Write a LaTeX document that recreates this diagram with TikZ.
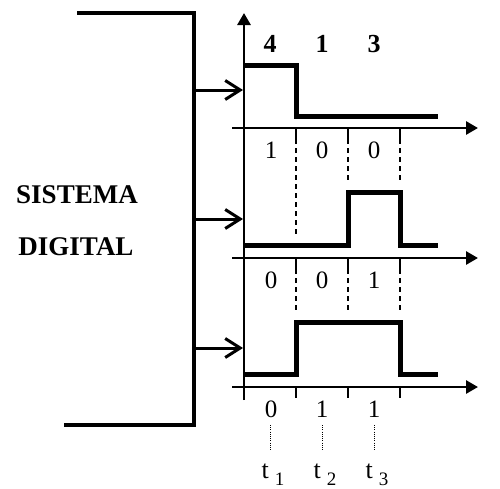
\documentclass[tikz,border=0pt]{standalone}
\usepackage{fontspec}
\setmainfont{Liberation Serif}
\usetikzlibrary{arrows.meta}
\begin{document}
\begin{tikzpicture}[x=1pt,y=-1pt,
  bracketline/.style={line width=4pt,line join=miter},
  inarrow/.style={line width=3pt,-{Straight Barb[length=15pt,width=19pt,line width=3pt]}},
  axisline/.style={line width=2.8pt,-{Triangle[length=12pt,width=13pt]}},
  tickline/.style={line width=1.5pt},
  signal/.style={line width=5pt,line join=miter},
  dashline/.style={line width=1.3pt,dash pattern=on 5pt off 4pt},
  dotline/.style={line width=1pt,dash pattern=on 1pt off 1.2pt},
  bitlabel/.style={font=\fontsize{25}{25}\selectfont,inner sep=0pt},
  toplabel/.style={font=\fontsize{26}{26}\selectfont\bfseries,inner sep=0pt},
  sysname/.style={font=\fontsize{27}{27}\selectfont\bfseries,inner sep=0pt},
  tlabel/.style={font=\fontsize{26}{26}\selectfont,inner sep=0pt}
]
\useasboundingbox (0,0) rectangle (500,488);
% bracket of the system
\coordinate (bt0) at (77,13);
\coordinate (bt1) at (194,13);
\coordinate (bb1) at (194,425);
\coordinate (bb0) at (64,425);
\draw[bracketline] (bt0) -- (bt1) -- (bb1) -- (bb0);
\node[sysname] (sis) at (77,195) {SISTEMA};
\node[sysname] (dig) at (76,247) {DIGITAL};
% vertical axis
\coordinate (vbot) at (244,400);
\coordinate (vtop) at (244,13);
\draw[axisline] (vbot) -- (vtop);
% input arrows
\foreach \i/\y in {1/90,2/219,3/348}{
  \coordinate (ia\i) at (194,\y);
  \coordinate (ib\i) at (243,\y);
  \draw[inarrow] (ia\i) -- (ib\i);
}
% horizontal axes and ticks
\foreach \i/\y in {1/128,2/258,3/387}{
  \coordinate (ha\i) at (232,\y);
  \coordinate (hb\i) at (478,\y);
  \draw[axisline] (ha\i) -- (hb\i);
  \foreach \x in {296,348,400}{
    \coordinate (tk\i\x) at (\x,\y);
    \coordinate (tke\i\x) at (\x,\y+11);
    \draw[tickline] (tk\i\x) -- (tke\i\x);
  }
}
% signals
\draw[signal] (244,65) -- (296,65) -- (296,116) -- (438,116);
\draw[signal] (244,245) -- (348,245) -- (348,192) -- (400,192) -- (400,245) -- (438,245);
\draw[signal] (244,374) -- (296,374) -- (296,322) -- (400,322) -- (400,374) -- (438,374);
% dashed guides
\coordinate (d1a) at (296,139); \coordinate (d1b) at (296,234);
\coordinate (d2a) at (348,139); \coordinate (d2b) at (348,182);
\coordinate (d3a) at (400,139); \coordinate (d3b) at (400,182);
\draw[dashline] (d1a) -- (d1b);
\draw[dashline] (d2a) -- (d2b);
\draw[dashline] (d3a) -- (d3b);
\foreach \x in {296,348,400}{
  \coordinate (e\x a) at (\x,269);
  \coordinate (e\x b) at (\x,312);
  \draw[dashline] (e\x a) -- (e\x b);
}
% top labels
\node[toplabel] (n4) at (270,44) {4};
\node[toplabel] (n1) at (322,44) {1};
\node[toplabel] (n3) at (374,44) {3};
% bit labels
\node[bitlabel] (r1a) at (271,150) {1};
\node[bitlabel] (r1b) at (322,150) {0};
\node[bitlabel] (r1c) at (374,150) {0};
\node[bitlabel] (r2a) at (271,280) {0};
\node[bitlabel] (r2b) at (322,280) {0};
\node[bitlabel] (r2c) at (374,280) {1};
\node[bitlabel] (r3a) at (271,409) {0};
\node[bitlabel] (r3b) at (322,409) {1};
\node[bitlabel] (r3c) at (374,409) {1};
% dotted lines
\foreach \x/\n in {270/1,322/2,374/3}{
  \coordinate (p\n a) at (\x,425);
  \coordinate (p\n b) at (\x,451);
  \draw[dotline] (p\n a) -- (p\n b);
  \node[tlabel,anchor=base] (t\n) at (\x+3,478) {t\hspace{6pt}\raisebox{-7pt}{\fontsize{19}{19}\selectfont\n}};
}
\end{tikzpicture}
\end{document}
